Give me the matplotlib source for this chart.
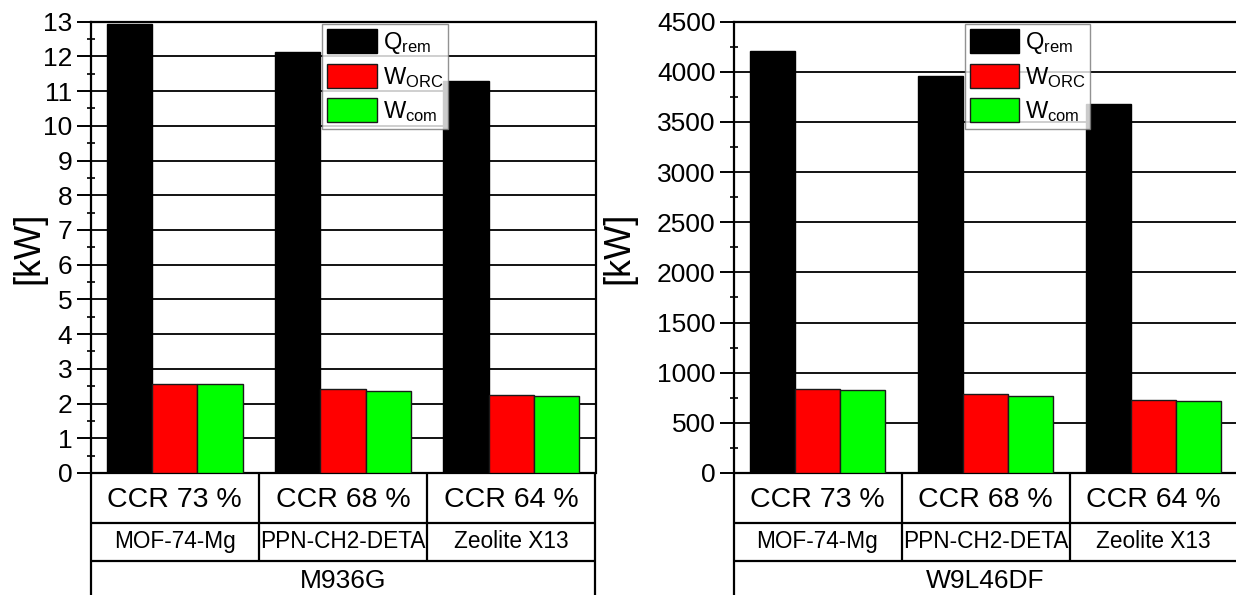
import matplotlib
matplotlib.use("Agg")
import matplotlib.pyplot as plt
import numpy as np
from matplotlib.ticker import MultipleLocator
from matplotlib.lines import Line2D
from matplotlib.patches import Rectangle

plt.rcParams['font.family'] = ['Liberation Sans', 'DejaVu Sans']
plt.rcParams['mathtext.default'] = 'regular'

# ---- data ----
ccr_labels = ["CCR 73 %", "CCR 68 %", "CCR 64 %"]
materials = ["MOF-74-Mg", "PPN-CH2-DETA", "Zeolite X13"]
datasets = ["M936G", "W9L46DF"]
series_names = [r"$Q_{rem}$", r"$W_{ORC}$", r"$W_{com}$"]
series_colors = ["#000000", "#ff0000", "#00ff00"]

# M936G panel (kW)
m936g_qrem = [12.93, 12.14, 11.29]
m936g_worc = [2.56, 2.41, 2.25]
m936g_wcom = [2.55, 2.37, 2.23]
# W9L46DF panel (kW)
w9l_qrem = [4206, 3954, 3675]
w9l_worc = [837, 787, 730]
w9l_wcom = [827, 770, 720]

panels = [
    dict(name=datasets[0], data=[m936g_qrem, m936g_worc, m936g_wcom],
         ylim=13, major=1, minor=0.5, labx=46),
    dict(name=datasets[1], data=[w9l_qrem, w9l_worc, w9l_wcom],
         ylim=4500, major=500, minor=250, labx=636),
]

W, H = 1236, 595
fig = plt.figure(figsize=(W / 100, H / 100), dpi=100)

ax_top = 21.7
ax_bot = 473.0
axes_px = [(90.5, 595.5), (733.5, 1237.5)]
ax_h = ax_bot - ax_top
row1 = -(523 - ax_bot) / ax_h
row2 = -(560.5 - ax_bot) / ax_h
row3 = -(640 - ax_bot) / ax_h

bar_w = 0.269
x = np.arange(3)

for (xl, xr), p in zip(axes_px, panels):
    ax = fig.add_axes([xl / W, (H - ax_bot) / H, (xr - xl) / W, ax_h / H])
    ax.set_xlim(-0.5, 2.5)
    ax.set_ylim(0, p['ylim'])
    for i, (vals, col, nm) in enumerate(zip(p['data'], series_colors, series_names)):
        ec = "#000000" if i == 0 else "#1a1a1a"
        ax.bar(x + (i - 1) * bar_w, vals, width=bar_w, color=col,
               edgecolor=ec, linewidth=1.0, label=nm, zorder=3)
    ax.yaxis.set_major_locator(MultipleLocator(p['major']))
    ax.yaxis.set_minor_locator(MultipleLocator(p['minor']))
    ax.grid(axis='y', which='major', color='black', linewidth=1.3, zorder=1)
    ax.set_axisbelow(True)
    ax.set_xticks([])
    ax.tick_params(axis='y', which='major', direction='out', length=10,
                   width=1.4, labelsize=19, pad=3)
    ax.tick_params(axis='y', which='minor', direction='inout', length=6,
                   width=1.2)
    for s in ['top', 'left', 'right', 'bottom']:
        ax.spines[s].set_linewidth(1.6)
    ax.spines['bottom'].set_visible(False)
    ax.set_ylabel("[kW]", fontsize=26)
    ax.yaxis.set_label_coords((p['labx'] - xl) / (xr - xl), 0.5)

    leg = ax.legend(loc='upper left', bbox_to_anchor=(0.459, 0.995),
                    fontsize=17, handlelength=2.1, handleheight=1.2,
                    labelspacing=0.35, borderpad=0.2, handletextpad=0.25,
                    borderaxespad=0.0, frameon=True, fancybox=False)
    leg.get_frame().set_edgecolor('#777777')
    leg.get_frame().set_linewidth(1.0)
    leg.set_zorder(5)

    # ---- category table below axes ----
    tr = ax.get_xaxis_transform()
    lw = 1.6
    kw = dict(transform=tr, color='black', linewidth=lw, clip_on=False,
              solid_capstyle='butt')
    for yy in [0, row1, row2]:
        ax.add_line(Line2D([-0.5, 2.5], [yy, yy], **kw))
    for xx in [-0.5, 2.5]:
        ax.add_line(Line2D([xx, xx], [0, row3], **kw))
    for xx in [0.5, 1.5]:
        ax.add_line(Line2D([xx, xx], [0, row2], **kw))
    for i in range(3):
        ax.text(i, (0 + row1) / 2 - 0.004, ccr_labels[i], transform=tr,
                ha='center', va='center', fontsize=20.5, clip_on=False)
        t = ax.text(i, (row1 + row2) / 2, materials[i], transform=tr,
                    ha='center', va='center', fontsize=16.3, clip_on=True)
        cell = Rectangle((i - 0.5, row2), 1.0, row1 - row2, transform=tr,
                         visible=False)
        ax.add_patch(cell)
        cell.set_clip_on(False)
        t.set_clip_path(cell)
    ax.text(1, -(580.5 - ax_bot) / ax_h, p['name'],
            transform=tr, ha='center', va='center', fontsize=19, clip_on=False)

fig.savefig("out.png", dpi=100)
